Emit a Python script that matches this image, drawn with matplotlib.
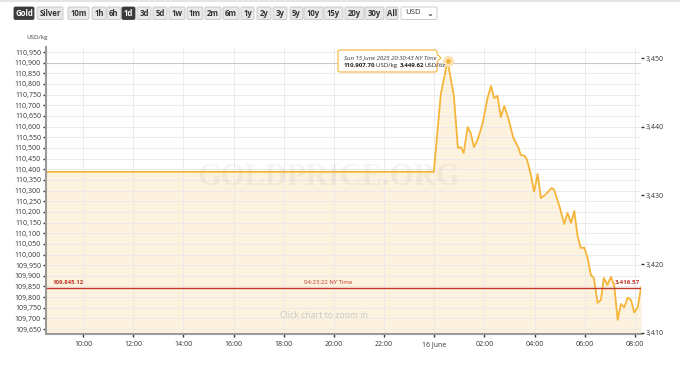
import matplotlib
matplotlib.use("Agg")
import matplotlib.pyplot as plt
from matplotlib.patches import FancyBboxPatch, Rectangle, Polygon

# ---- data (hours since 15 June 00:00, chart-local time) ----
hours = [8.40, 23.98, 24.26, 24.53, 24.78, 24.94, 25.06, 25.17, 25.33, 25.45,
         25.58, 25.74, 25.94, 26.12, 26.26, 26.38, 26.52, 26.65, 26.79, 26.95,
         27.15, 27.34, 27.45, 27.61, 27.70, 27.85, 27.98, 28.12, 28.25, 28.41,
         28.68, 28.78, 29.01, 29.18, 29.31, 29.45, 29.58, 29.71, 29.84, 29.98,
         30.11, 30.24, 30.36, 30.51, 30.64, 30.76, 30.90, 31.04, 31.17, 31.31,
         31.44, 31.57, 31.71, 31.84, 31.97, 32.11, 32.24]
usd_kg = [110388, 110388, 110753, 110907.70, 110744, 110500, 110504, 110476, 110598, 110570,
          110504, 110542, 110622, 110734, 110791, 110734, 110744, 110645, 110697, 110640,
          110547, 110505, 110467, 110462, 110444, 110373, 110295, 110378, 110265, 110279,
          110312, 110303, 110218, 110143, 110195, 110148, 110204, 110087, 110031, 110032,
          109984, 109904, 109890, 109773, 109787, 109890, 109857, 109895, 109857, 109693,
          109768, 109752, 109798, 109787, 109728, 109752, 109845.12]

last_price = 109845.12
last_oz = "3,416.57"
last_time = "04:23:22 NY Time"
peak_hour = 24.53
peak_price = 110907.70
peak_label = "Sun 15 June 2025 20:30:43 NY Time"
KG_TO_OZ = 32.1507

x_ticks = [10, 12, 14, 16, 18, 20, 22, 24, 26, 28, 30, 32]
x_labels = ["10:00", "12:00", "14:00", "16:00", "18:00", "20:00", "22:00",
            "16 June", "02:00", "04:00", "06:00", "08:00"]
kg_ticks = list(range(109650, 110951, 50))
oz_ticks = [3410, 3420, 3430, 3440, 3450]

buttons = ["Gold", "Silver", "10m", "1h", "6h", "1d", "3d", "5d", "1w", "1m", "2m",
           "6m", "1y", "2y", "3y", "5y", "10y", "15y", "20y", "30y", "All"]
active = {"Gold", "1d"}
# button pixel extents (layout)
btn_x = [(14, 34), (37, 63), (68, 89), (92, 106), (107, 121), (122, 135), (137, 151),
         (153, 167), (169, 185), (187, 203), (205, 221), (223, 239), (241, 254),
         (257, 271), (273, 287), (290, 303), (304, 323), (324, 343), (345, 364),
         (365, 384), (386, 398)]

W, H = 680, 366
FONT = "Open Sans"
LINE = "#f5b53a"
FILL = "#fdf2dd"
RED = "#c0392b"


def fx(x):
    return x / W


def fy(y):
    return 1 - y / H


fig = plt.figure(figsize=(W / 100, H / 100), dpi=100)
fig.patch.set_facecolor("white")

ax = fig.add_axes([fx(46), fy(334), (641 - 46) / W, (334 - 46.7) / H])
ax.set_xlim(8.52, 32.24)
ax.set_ylim(109627, 110975)
ax.set_facecolor("white")

ax.fill_between(hours, usd_kg, 109627, color=FILL, lw=0, zorder=1)
ax.plot(hours, usd_kg, color=LINE, lw=1.3, zorder=4, solid_joinstyle="round")

# grid
for v in kg_ticks:
    ax.axhline(v, color="#e9e9e9", lw=0.6, zorder=2)
for t in x_ticks:
    ax.axvline(t, color="#e9e9e9", lw=0.6, zorder=2)

# crosshair at peak
ax.axhline(peak_price - 8, color="#c8c8c8", lw=0.8, zorder=3)

# last price line
ax.axhline(last_price, color=RED, lw=1.0, zorder=5)
ax.text(8.78, last_price + 12, f"{last_price:,.2f}", color=RED, fontsize=4.3,
        fontweight="bold", family=FONT, va="bottom", ha="left", zorder=6)
ax.text(19.75, last_price + 12, last_time, color=RED, fontsize=4.3,
        family=FONT, va="bottom", ha="center", zorder=6)
ax.text(32.2, last_price + 12, last_oz, color=RED, fontsize=4.5,
        fontweight="bold", family=FONT, va="bottom", ha="right", zorder=6)

# peak marker
ax.plot([peak_hour], [peak_price], "o", ms=8, color="#fbe3b5", mec="none", zorder=6)
ax.plot([peak_hour], [peak_price], "o", ms=3.5, color=LINE, mec="none", zorder=7)

# watermark
ax.text(19.8, 110360, "GOLDPRICE.ORG", family="Liberation Serif", fontweight="bold",
        fontsize=22, color="#000000", alpha=0.04, ha="center", va="center", zorder=3)
ax.text(19.6, 109712, "Click chart to zoom in", family=FONT, fontsize=6.3,
        color="#c9c9c9", ha="center", va="center", zorder=3)

ax.set_xticks(x_ticks)
ax.set_xticklabels(x_labels)
ax.set_yticks(kg_ticks)
ax.set_yticklabels([f"{v:,}" for v in kg_ticks])
for s in ["top", "right"]:
    ax.spines[s].set_visible(False)
for s in ["left", "bottom"]:
    ax.spines[s].set_color("#9a9a9a")
    ax.spines[s].set_linewidth(1.5)
    ax.spines[s].set_zorder(8)
ax.tick_params(axis="both", direction="out", length=2, width=1, color="#333333",
               labelsize=5, pad=1.5, labelcolor="#333333")
ax.tick_params(axis="x", pad=3)
for lab in ax.get_xticklabels() + ax.get_yticklabels():
    lab.set_family(FONT)

ax2 = ax.twinx()
ax2.set_ylim(109627 / KG_TO_OZ, 110975 / KG_TO_OZ)
ax2.set_yticks(oz_ticks)
ax2.set_yticklabels([f"{v:,}" for v in oz_ticks])
for s in ax2.spines.values():
    s.set_visible(False)
ax2.tick_params(axis="y", direction="out", length=2, width=1, color="#333333",
                labelsize=5, pad=1.5, labelcolor="#333333")
for lab in ax2.get_yticklabels():
    lab.set_family(FONT)

fig.text(fx(37), fy(37), "USD/kg", fontsize=4.5, family=FONT, color="#444444",
         ha="center", va="center")

# tooltip box with pointer towards the peak
tip = FancyBboxPatch((fx(338), fy(72)), (437 - 338) / W, 22 / H,
                     boxstyle="round,pad=0,rounding_size=0.004",
                     transform=fig.transFigure, fc="white", ec=LINE, lw=0.8, zorder=10)
fig.add_artist(tip)
fig.add_artist(Polygon([(fx(436.6), fy(54)), (fx(441), fy(58)), (fx(436.6), fy(62))],
                       closed=False, transform=fig.transFigure, fc="white", ec=LINE,
                       lw=0.8, zorder=11))
fig.add_artist(Rectangle((fx(435.8), fy(61.6)), 1.2 / W, 7.2 / H, transform=fig.transFigure,
                         fc="white", ec="none", zorder=11))
fig.text(fx(344), fy(57.5), peak_label, fontsize=4.3, style="italic", family=FONT,
         color="#333333", va="center", ha="left", zorder=12)

renderer = fig.canvas.get_renderer()
pieces = [(f"{peak_price:,.2f}", "bold"), ("USD/kg ", "normal"),
          (f"{peak_price / KG_TO_OZ:,.2f}", "bold"), ("USD/oz", "normal")]
xpos = 344
for txt, wt in pieces:
    t = fig.text(fx(xpos), fy(65.5), txt, fontsize=4.4, fontweight=wt, family=FONT,
                 color="#222222", va="center", ha="left", zorder=12)
    xpos += t.get_window_extent(renderer).width + (1.2 if txt.endswith(" ") else 0.2)

# toolbar
fig.add_artist(Rectangle((0, fy(2)), 1, 2 / H, transform=fig.transFigure,
                         fc="#e4e4e4", ec="none"))
for label, (x0, x1) in zip(buttons, btn_x):
    on = label in active
    fig.add_artist(FancyBboxPatch((fx(x0), fy(19.5)), (x1 - x0) / W, 12.5 / H,
                                  boxstyle="round,pad=0,rounding_size=0.003",
                                  transform=fig.transFigure,
                                  fc="#3c3c3c" if on else "#e8e8e8",
                                  ec="#3c3c3c" if on else "#c4c4c4", lw=0.6))
    fig.text(fx((x0 + x1) / 2), fy(13.3), label, fontsize=5.6, fontweight="bold",
             family=FONT, color="white" if on else "#333333", ha="center", va="center")
fig.add_artist(FancyBboxPatch((fx(401), fy(19.5)), 36 / W, 12.5 / H,
                              boxstyle="round,pad=0,rounding_size=0.003",
                              transform=fig.transFigure, fc="white", ec="#c4c4c4", lw=0.6))
fig.text(fx(405), fy(13), "USD", fontsize=5.6, family=FONT, color="#333333",
         ha="left", va="center")
fig.text(fx(430), fy(13.3), "\u2304", fontsize=6, family="DejaVu Sans", color="#333333",
         ha="center", va="center", fontweight="bold")

fig.savefig("out.png", dpi=100)
